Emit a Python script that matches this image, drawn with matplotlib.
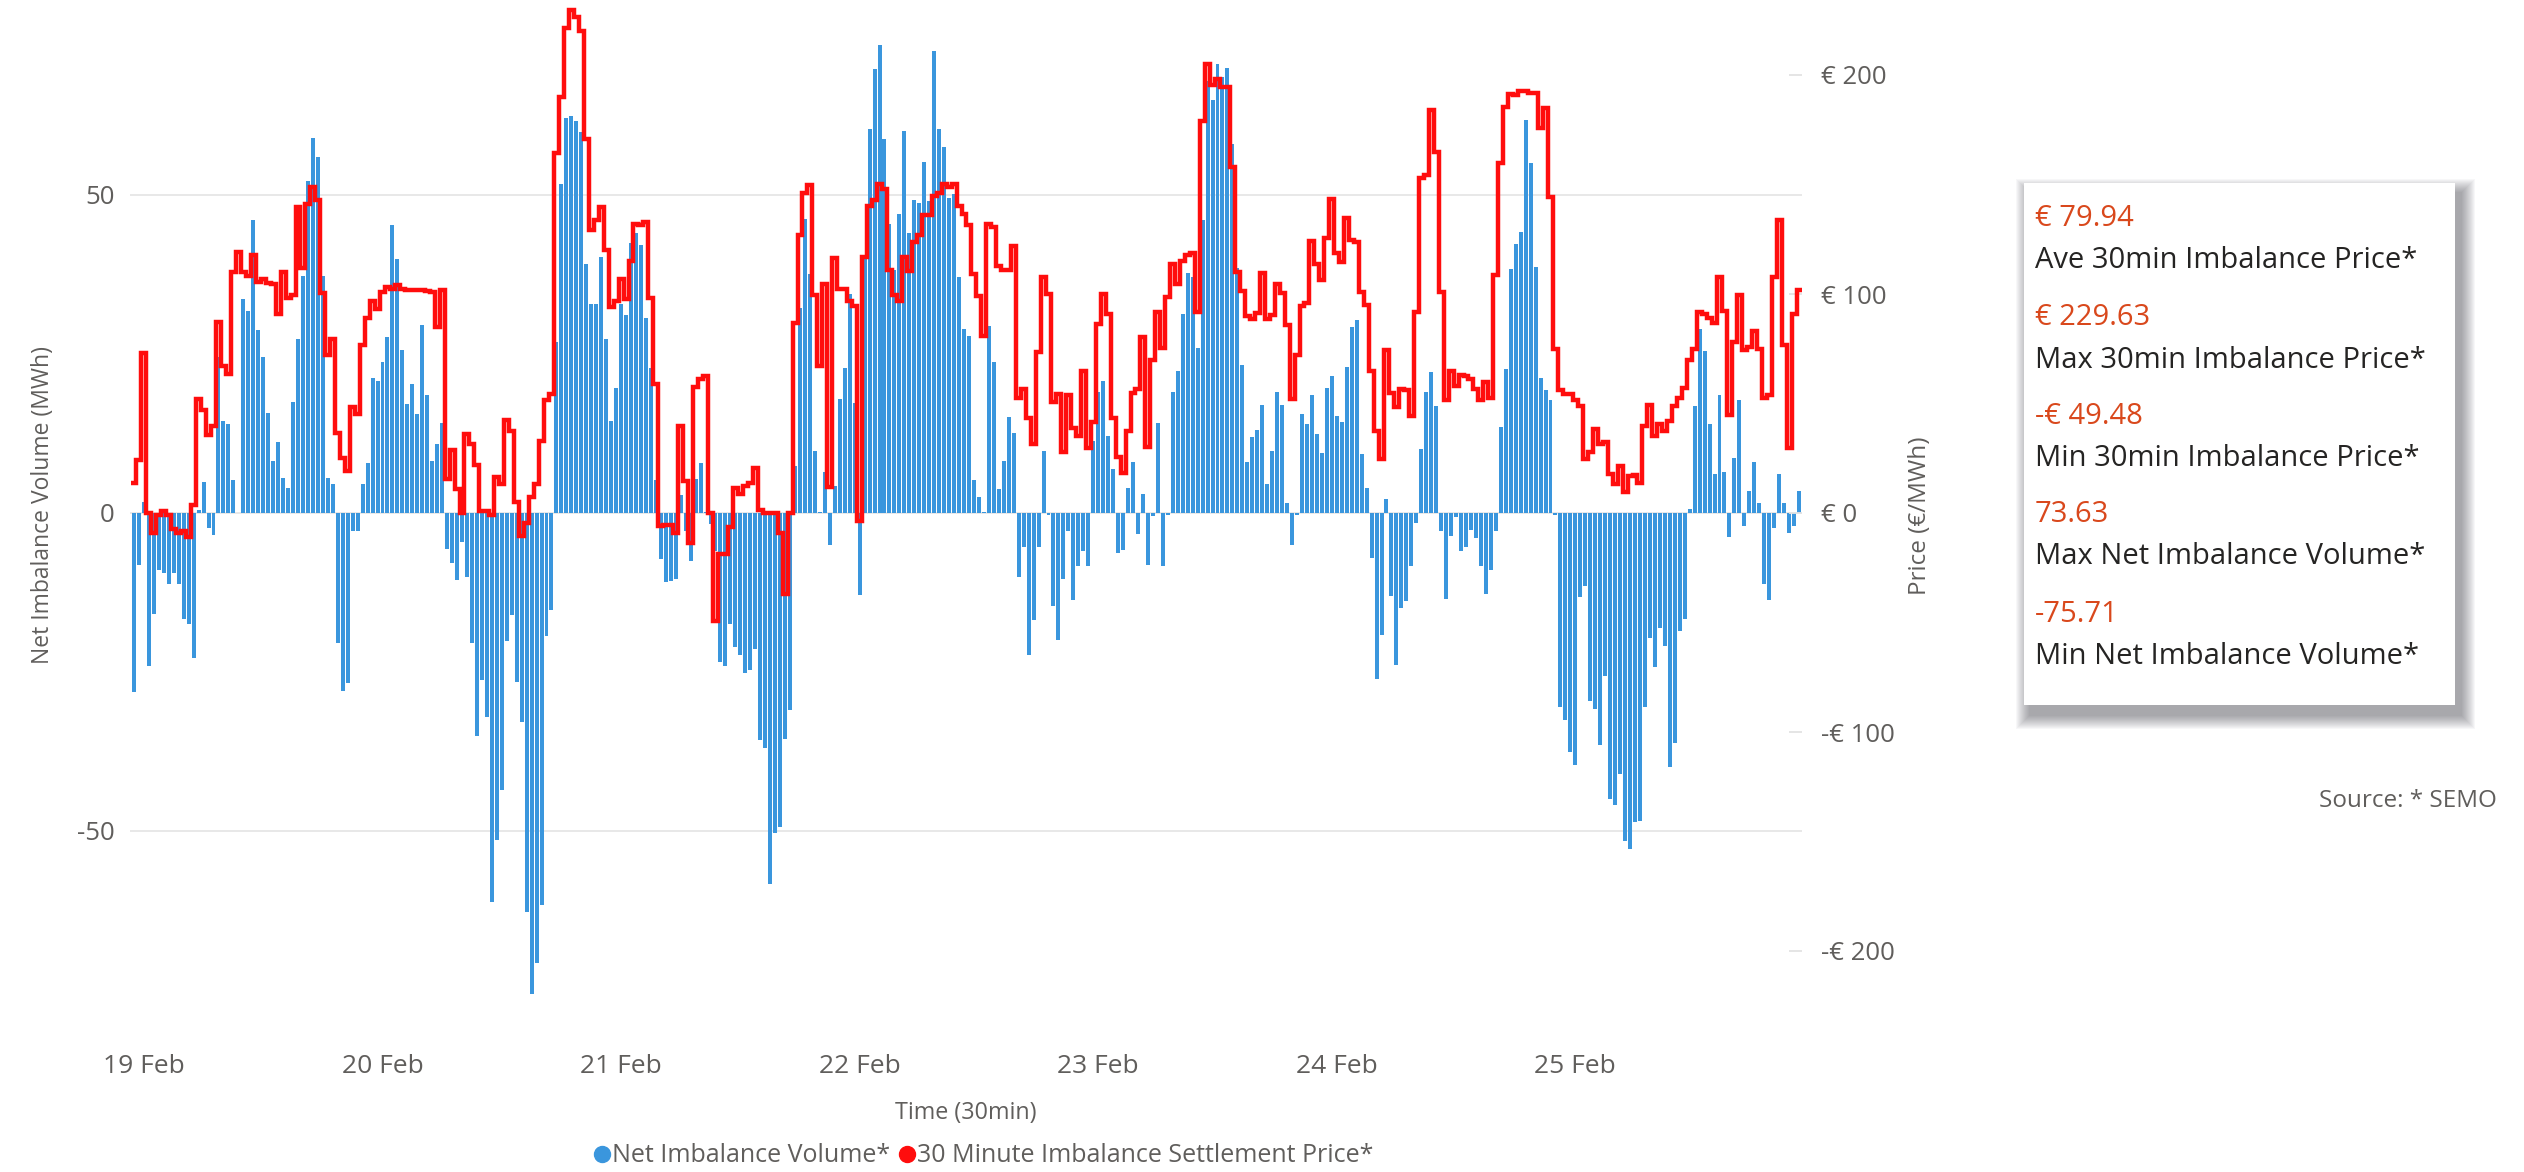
import numpy as np
import matplotlib
matplotlib.use('Agg')
import matplotlib.pyplot as plt
from matplotlib.patches import Rectangle
from matplotlib.lines import Line2D

plt.rcParams['font.family'] = ['Open Sans', 'DejaVu Sans']

# Net imbalance volume (MWh), one value per 30 min period
volume = [
    -28.2, -8.1, 1.7, -24, -15.9, -9, -9.4, -11.2, -9.4, -11.2, -16.7, -17.4, -22.8, 0.5, 4.9, -2.3,
    -3.5, 24.6, 14.5, 14, 5.2, 0, 33.7, 31.7, 46, 28.7, 24.5, 15.8, 8.2, 11.1, 5.5, 3.9,
    17.5, 27.4, 37.3, 52.2, 59, 56, 37.3, 5.5, 4.5, -20.4, -28, -26.7, -2.9, -2.9, 4.5, 7.9,
    21.3, 20.8, 23.8, 27.6, 45.3, 40, 25.6, 17.2, 20.3, 15.6, 29.6, 18.5, 8.2, 10.8, 14.1, -5.6,
    -7.8, -10.6, -4.6, -10, -20.4, -35, -26.3, -32, -61.2, -51.4, -43.6, -20.1, -16.1, -26.5, -32.8, -62.7,
    -75.7, -70.7, -61.7, -19.4, -15.2, 26.9, 51.8, 62.1, 62.4, 61.6, 59.9, 39.1, 32.9, 32.9, 40.3, 27.4,
    14.5, 19.6, 32.9, 31.2, 42.5, 44, 42.2, 30.7, 22.8, 5.2, -7.3, -10.9, -10.7, -10.4, 2.9, -2.9,
    -7.6, 5.4, 7.9, 0.2, -1.8, -6, -23.4, -24, -17.4, -21.1, -22.4, -25.2, -24.7, -21.4, -35.7, -37,
    -58.4, -50.3, -49.4, -35.5, -31, 7.4, 32.2, 46.2, 37.6, 9.8, 0.2, 6.5, -5, 4.2, 18, 22.8,
    34.4, 17.3, -12.9, 40, 60.3, 69.8, 73.6, 58.8, 45.5, 38.2, 47, 60, 44, 49.2, 48.7, 55.2,
    49, 72.6, 60.3, 57.5, 49.5, 50.2, 37.1, 28.9, 27.9, 5.2, 2.5, 0.2, 29.4, 23.8, 3.7, 8.2,
    15.1, 12.6, -10, -5.3, -22.4, -16.9, -5.3, 9.8, -0.3, -14.6, -19.9, -10.4, -2.8, -13.7, -8.4, -6,
    -8.4, 11.3, 19, 20.8, 12.1, 6.9, -6.3, -5.8, 4, 8, -3.3, 3, -8.1, -0.5, 14.1, -8.4,
    -0.3, 19, 22.3, 31.3, 37.7, 37.1, 25.9, 46, 68, 65, 70.6, 68.6, 70, 58, 38.5, 23.3,
    8, 12, 13, 17, 4.5, 9.8, 19, 17, 1.5, -5, -0.3, 15.5, 14, 18.6, 12.5, 9.5,
    19.6, 21.5, 15.3, 14.3, 23, 29.2, 30.4, 9.3, 4, -7.1, -26.1, -19.2, 2.2, -13, -23.9, -14.9,
    -13.9, -8.4, -1.5, 10.1, 19, 22.1, 16.8, -2.9, -13.6, -3.6, -0.6, -6, -5.3, -2.6, -3.9, -8.4,
    -12.7, -8.9, -2.9, 13.5, 22.6, 38.4, 42.3, 44.2, 61.8, 55, 38.7, 21.3, 19.3, 17.8, -0.3, -30.5,
    -32.5, -37.5, -39.7, -13.2, -11.4, -29.5, -30.8, -36.5, -25.7, -44.9, -45.9, -41, -51.6, -52.8, -48.6, -48.4,
    -30.5, -19.7, -24.2, -18.1, -20.9, -40, -36.2, -18.6, -16.6, 0.7, 16.8, 28.9, 25.4, 14, 6.2, 18.5,
    6.4, -3.8, 8.6, 17.8, -2.1, 3.4, 8, 1.5, -11.2, -13.7, -2.3, 6.2, 1.5, -3.1, -2.1, 3.5,
]

# 30 minute imbalance settlement price (EUR/MWh)
price = [
    13.9, 24.2, 73, 0, -9, -1, 1, -1, -7.4, -9, -8, -11, 3.5, 52, 47, 35.5,
    39.6, 87, 67, 63.5, 110, 119, 110, 108, 118, 105.5, 107, 105, 104.6, 90.7, 110, 98,
    99.6, 139.5, 112, 141, 149, 143, 100.5, 72, 79.5, 36.6, 25, 19, 48.5, 45, 76.5, 89,
    97, 93, 101, 103, 102.5, 104, 102.5, 101.6, 101.7, 101.7, 102, 101.5, 101, 84.8, 102, 15.4,
    28.7, 11, 0, 36, 31.6, 21.9, 1, 1, -1, 16.3, 13.3, 42.5, 37.5, 5, -10.3, -4.4,
    7.4, 13.3, 33, 51.7, 54.4, 164.6, 190, 221.6, 229.6, 226.7, 220, 171, 129, 134, 139.5, 120,
    94, 96.6, 107, 97.8, 115, 132, 131.5, 133, 98, 59, -6, -5.3, -5.3, -9.2, 39.6, 14.5,
    -13.6, 57.6, 61, 62.6, 0, -49.5, -18.6, -18.6, -6.2, 11.5, 8.6, 12.4, 13.9, 20.7, 1.2, 0,
    0, 0, -9.2, -37.2, 0, 86.9, 127, 146, 149.8, 99.6, 67, 104.6, 11.8, 116.4, 102.5, 102.5,
    97, 94.3, -3.8, 116.7, 140, 143, 150, 148, 111, 99.6, 97, 116.7, 110.5, 123.8, 127, 136,
    136, 144.8, 146, 150.4, 149, 150.4, 140, 136.5, 131.5, 109, 99, 81, 132, 130.6, 113, 110.8,
    111, 121.7, 52.3, 56.7, 43.4, 31.6, 73.6, 107.9, 100.2, 50.8, 54.4, 28, 53.8, 39, 35.2, 64.7,
    29.6, 41.4, 86.3, 100.2, 90.7, 43.4, 25.7, 18.3, 37.5, 54.7, 56.7, 80.4, 30.1, 70, 91.6, 75.4,
    98.7, 113.8, 104.6, 115, 118, 118.5, 92, 179, 205, 195.5, 198, 194.5, 194.5, 158, 110, 101.5,
    90, 88.5, 91.4, 109.4, 88.5, 90.3, 104.5, 100.5, 86, 52, 72.3, 94.5, 96, 124, 113.8, 106.4,
    125.6, 143.3, 118.8, 114.4, 134.5, 124.7, 123.8, 101, 95, 64.7, 37.5, 24.8, 74.5, 54.7, 48.5, 56.7,
    56, 44.3, 91.6, 152.8, 154.3, 183.8, 165, 101, 51.7, 64.7, 58.2, 63.2, 62.6, 61.2, 56.7, 51.7,
    59.7, 52.6, 108.5, 159.8, 185.2, 191.4, 191, 192.5, 192.5, 192, 192, 175.8, 185, 144.3, 75, 56,
    54.4, 54.4, 51.7, 48.8, 24.8, 27.8, 38.4, 31.6, 32.2, 17.7, 13.3, 21.3, 9.5, 16.8, 17.4, 13.9,
    39.6, 49.4, 35.2, 40.5, 37.5, 42, 48.8, 52.3, 57.3, 70, 75, 91.6, 90.7, 89.2, 86.9, 107.9,
    92.2, 44.9, 78.3, 99.6, 74.5, 76, 83.3, 75, 52.3, 53.8, 107.9, 134, 76.8, 29.6, 90.7, 101.7,
]

day_labels = ['19 Feb', '20 Feb', '21 Feb', '22 Feb', '23 Feb', '24 Feb', '25 Feb']
vol_ticks = [-50, 0, 50]
price_ticks = [-200, -100, 0, 100, 200]
price_tick_labels = ['-€ 200', '-€ 100', '€ 0', '€ 100', '€ 200']

stat_values = ['€ 79.94', '€ 229.63', '-€ 49.48', '73.63', '-75.71']
stat_names = ['Ave 30min Imbalance Price*', 'Max 30min Imbalance Price*',
              'Min 30min Imbalance Price*', 'Max Net Imbalance Volume*',
              'Min Net Imbalance Volume*']

W, H = 2524, 1172
BLUE = '#3A96DD'
RED = '#FF0D0D'
GREY = '#605E5C'
ORANGE = '#D9481C'


def fx(px):
    return px / W


def fy(py):
    return 1 - py / H


fig = plt.figure(figsize=(W / 100, H / 100), dpi=100)
ax = fig.add_axes([fx(130), fy(1010), (1802 - 130) / W, 1010 / H])

x = np.arange(len(volume))

# bars for net imbalance volume
ax.bar(x, volume, width=0.8, color=BLUE, zorder=2)
ax.set_xlim(-0.8, 335.6)
ax.set_ylim(-497 / 6.36, 513 / 6.36)
ax.set_yticks(vol_ticks)
ax.set_yticklabels(['-50', '0', '50'])
ax.grid(axis='y', color='#E6E6E6', linewidth=1.3)
ax.set_axisbelow(True)
ax.tick_params(axis='y', length=0, pad=11, labelsize=18.5, labelcolor=GREY)
ax.set_xticks([2 + 48 * k for k in range(len(day_labels))])
ax.set_xticklabels(day_labels)
ax.tick_params(axis='x', length=0, pad=32, labelsize=19, labelcolor=GREY)
for s in ax.spines.values():
    s.set_visible(False)
ax.set_ylabel('Net Imbalance Volume (MWh)', fontsize=16.5, color=GREY, labelpad=16)

# step line for the settlement price on the second axis
ax2 = ax.twinx()
ax2.stairs(price, np.arange(len(price) + 1) - 0.5, baseline=None, color=RED,
           linewidth=3.2, zorder=3)
ax2.set_ylim(-497 / 2.19, 513 / 2.19)
ax2.set_yticks(price_ticks)
ax2.set_yticklabels(price_tick_labels)
ax2.tick_params(axis='y', direction='in', length=9.5, width=1.3, color='#E3E3E3',
                pad=14, labelsize=18.5, labelcolor=GREY)
for s in ax2.spines.values():
    s.set_visible(False)
fig.text(fx(1920), fy(516), 'Price (€/MWh)', rotation=90, ha='center', va='center',
         fontsize=17.5, color=GREY)

fig.text(fx(966), fy(1113), 'Time (30min)', ha='center', va='center', fontsize=16.8, color=GREY)

handles = [Line2D([], [], linestyle='none', marker='o', markersize=11.5, color=BLUE),
           Line2D([], [], linestyle='none', marker='o', markersize=11.5, color=RED)]
fig.legend(handles, ['Net Imbalance Volume*', '30 Minute Imbalance Settlement Price*'],
           loc='center', bbox_to_anchor=(fx(984), fy(1156)), ncol=2, frameon=False,
           fontsize=18, labelcolor=GREY, handlelength=0.6, handletextpad=0.1,
           columnspacing=0.4, borderaxespad=0)

# stats card with a soft shadow
x0, y0, x1, y1 = 2024, 183, 2455, 705
for k in range(14, 0, -1):
    fig.add_artist(Rectangle((fx(x0 + 6 - k), fy(y1 + 10 + k)), (x1 - x0 + 2 * k) / W,
                             (y1 - y0 + 2 * k) / H, transform=fig.transFigure,
                             facecolor='#30303a', edgecolor='none', alpha=0.035))
fig.add_artist(Rectangle((fx(x0), fy(y1)), (x1 - x0) / W, (y1 - y0) / H,
                         transform=fig.transFigure, facecolor='white', edgecolor='none'))
val_y = [218, 317, 416, 514, 614]
for v, n, yy in zip(stat_values, stat_names, val_y):
    fig.text(fx(2035), fy(yy), v, ha='left', va='center', fontsize=21, color=ORANGE)
    fig.text(fx(2035), fy(yy + 43), n, ha='left', va='center', fontsize=21, color='#252423')

fig.text(fx(2497), fy(801), 'Source: * SEMO', ha='right', va='center', fontsize=17.5, color=GREY)

plt.savefig('out.png', dpi=100)
